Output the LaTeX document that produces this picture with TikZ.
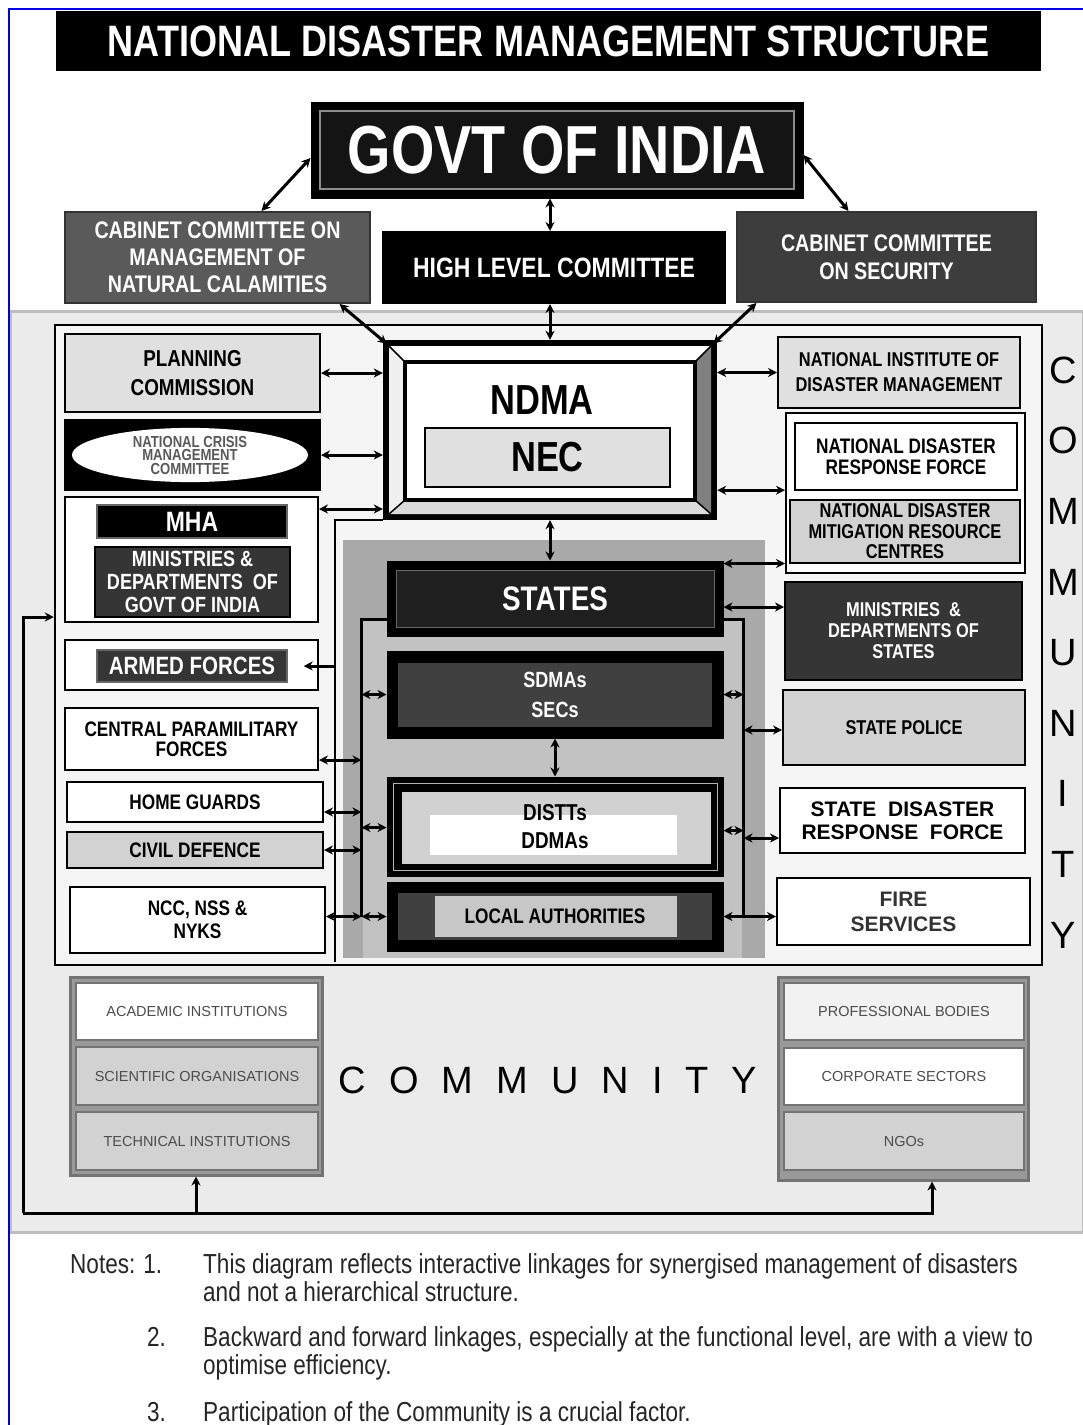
\documentclass[tikz,border=0pt]{standalone}
\usepackage{fontspec}
\setmainfont{Liberation Sans}
\newfontfamily\cnd{Liberation Sans}[FakeStretch=0.82]
\usetikzlibrary{arrows.meta,calc,shapes.geometric}
\definecolor{cabl}{HTML}{5A5A5A}
\definecolor{cabr}{HTML}{3D3D3D}
\definecolor{lg}{HTML}{E0E0E0}
\definecolor{mg}{HTML}{D2D2D2}
\definecolor{dk}{HTML}{353535}
\definecolor{panel}{HTML}{EBEBEB}
\definecolor{frm}{HTML}{F5F5F5}
\definecolor{gmid}{HTML}{A9A9A9}
\definecolor{glt}{HTML}{C2C2C2}
\newcommand\ppr[5]{\filldraw[#1] ([shift={(#2,#3)}]path picture bounding box.north west) rectangle ([shift={(-#4,-#5)}]path picture bounding box.south east);}
\tikzset{
 fs/.style 2 args={font=\cnd\bfseries\fontsize{#1}{#2}\selectfont},
 fr/.style 2 args={font=\cnd\fontsize{#1}{#2}\selectfont},
 box/.style={draw=black, line width=2pt, inner sep=0pt, align=center, fs={20}{22}},
 stk/.style={draw=black!55, line width=1.5pt, minimum width=242, minimum height=58, inner sep=0pt, font=\fontsize{14.5}{15}\selectfont, text=black!70},
 arr/.style={line width=3pt, {Stealth[length=9pt,width=9pt]}-{Stealth[length=9pt,width=9pt]}},
 one/.style={line width=3pt, -{Stealth[length=9pt,width=9pt]}},
 brk/.style={line width=2.5pt},
 note/.style={anchor=north west, inner sep=0pt, align=left, text=black!85, fr={27.5}{28}},
 notenum/.style={anchor=base west, inner sep=0pt, text=black!85, fr={27.5}{28}},
}
\begin{document}
\begin{tikzpicture}[x=1pt,y=-1pt]
\useasboundingbox (0,0) rectangle (1083,1425);
\fill[white] (0,0) rectangle (1083,1425);
% background panel
\filldraw[fill=panel, draw=black!25, line width=3pt] (10,311) rectangle (1083,1232);
\draw[blue!90!black, line width=2pt] (9,1425) -- (9,9) -- (1083,9);
\node[draw=black, line width=2.5pt, fill=frm, minimum width=987, minimum height=640, inner sep=0pt] (frame) at (548.5,645) {};
% central grey region
\fill[gmid] (343,540) rectangle (765,958);
\fill[glt] (363,618) rectangle (742,958);
\draw[line width=2.5pt] (383,520) -- (335,520) -- (335,962);

% top
\node[box, fill=black, text=white, minimum width=983, minimum height=58, fs={44}{48}] (title) at (548.5,41) {NATIONAL DISASTER MANAGEMENT STRUCTURE};
\node[box, fill=black, line width=3pt, text=white, minimum width=490, minimum height=94, fs={68}{72}, path picture={\ppr{draw=black!45,line width=1.2pt,fill=black!92}{8}{8}{8}{8}}] (govt) at (557,150) {GOVT OF INDIA};
\node[box, fill=cabl, draw=black!80, text=white, minimum width=305, minimum height=91, fs={24}{27}] (ccm) at (217.5,257.5) {CABINET COMMITTEE ON\\MANAGEMENT OF\\NATURAL CALAMITIES};
\node[box, fill=black, text=white, minimum width=342, minimum height=71, fs={28}{30}] (hlc) at (554,267.5) {HIGH LEVEL COMMITTEE};
\node[box, fill=cabr, draw=black!80, text=white, minimum width=299, minimum height=90, fs={24}{28}] (ccs) at (886.5,257) {CABINET COMMITTEE\\ON SECURITY};

% NDMA bevel box
\node[minimum width=334, minimum height=180, inner sep=0pt] (ndma) at (550,430) {};
\fill[black] (383,340) rectangle (717,520);
\fill[white] (389,346) -- (711,346) -- (695,362) -- (405,362) -- cycle;
\fill[black!6] (389,346) -- (405,362) -- (405,500) -- (389,514) -- cycle;
\fill[black!50] (711,346) -- (711,514) -- (695,500) -- (695,362) -- cycle;
\fill[black!14] (389,514) -- (711,514) -- (695,500) -- (405,500) -- cycle;
\draw[line width=1.5pt] (389,346) -- (405,362) (711,346) -- (695,362) (389,514) -- (405,500) (711,514) -- (695,500);
\draw[line width=4pt, fill=white] (405,362) rectangle (695,500);
\node[fs={42}{44}] (ndmat) at (542,400) {NDMA};
\node[box, fill=lg, line width=2.5pt, minimum width=245, minimum height=59, fs={42}{44}] (nec) at (547.5,457.5) {NEC};

% left column
\node[box, fill=lg, minimum width=255, minimum height=78, fs={23}{29}] (plan) at (192.5,373) {PLANNING\\COMMISSION};
\node[box, fill=black, minimum width=255, minimum height=70] (ncmc) at (192.5,455) {};
\node[ellipse, fill=white, minimum width=236, minimum height=46, inner sep=0pt, align=center, text=black!65, fs={16}{13.5}] (ncmct) at (190,455) {NATIONAL CRISIS\\MANAGEMENT\\COMMITTEE};
\node[box, fill=white, minimum width=253, minimum height=125] (mha) at (191.5,559.5) {};
\node[box, fill=black, draw=black!60, line width=1.5pt, text=white, minimum width=190, minimum height=33, fs={28}{30}] (mhabar) at (192,521.5) {MHA};
\node[box, fill=dk, line width=1.5pt, text=white, minimum width=195, minimum height=70, fs={22}{23}] (mingoi) at (192.5,582) {MINISTRIES \&\\DEPARTMENTS~ OF\\GOVT OF INDIA};
\node[box, fill=white, minimum width=253, minimum height=50] (arm) at (191.5,665) {};
\node[box, fill=dk, draw=black!60, line width=1.5pt, text=white, minimum width=190, minimum height=32, fs={25}{27}] (armbar) at (192,666) {ARMED FORCES};
\node[box, fill=white, minimum width=253, minimum height=62, fs={21}{20}] (cpf) at (191.5,739) {CENTRAL PARAMILITARY\\FORCES};
\node[box, fill=white, minimum width=256, minimum height=40, fs={21}{22}] (home) at (195,802) {HOME GUARDS};
\node[box, fill=mg, minimum width=256, minimum height=36, fs={21}{22}] (civil) at (195,850) {CIVIL DEFENCE};
\node[box, fill=white, minimum width=255, minimum height=66, fs={21}{23}] (ncc) at (197.5,920) {NCC, NSS \&\\NYKS};

% right column
\node[box, fill=lg, minimum width=242, minimum height=71, fs={20}{25}] (nidm) at (899,372.5) {NATIONAL INSTITUTE OF\\DISASTER MANAGEMENT};
\node[box, fill=white, minimum width=239, minimum height=160] (ncont) at (905.5,493) {};
\node[box, fill=white, line width=1.5pt, minimum width=222, minimum height=67, fs={21}{21}] (ndrf) at (906,456.5) {NATIONAL DISASTER\\RESPONSE FORCE};
\node[box, fill=mg, line width=1.5pt, minimum width=230, minimum height=63, fs={20}{20.5}] (ndmrc) at (905,531.5) {NATIONAL DISASTER\\MITIGATION RESOURCE\\CENTRES};
\node[box, fill=dk, text=white, minimum width=237, minimum height=98, fs={20}{21}] (minst) at (903.5,631) {MINISTRIES~ \&\\DEPARTMENTS OF\\STATES};
\node[box, fill=mg, minimum width=242, minimum height=75, fs={20}{22}] (police) at (904,727.5) {STATE POLICE};
\node[box, fill=white, minimum width=245, minimum height=65, font=\bfseries\fontsize{21}{23}\selectfont] (sdrf) at (902.5,820.5) {STATE~ DISASTER\\RESPONSE~ FORCE};
\node[box, fill=white, minimum width=253, minimum height=67, text=black!80, font=\bfseries\fontsize{21}{25}\selectfont] (fire) at (903.5,911.5) {FIRE\\SERVICES};
\node[align=center, inner sep=0pt, font=\fontsize{38}{70.6}\selectfont] (vcomm) at (1063,652.5) {C\\O\\M\\M\\U\\N\\I\\T\\Y};

% centre column
\node[box, fill=black, line width=3pt, text=white, minimum width=334, minimum height=73, fs={34}{36}, path picture={\ppr{draw=black!60,line width=1pt,fill=black!88}{8}{8}{8}{8}}] (states) at (555,598.5) {STATES};
\node[box, fill=black, line width=3pt, text=white, minimum width=334, minimum height=85, fs={22}{30}, path picture={\ppr{draw=none,fill=black!75}{10}{11}{10}{10}}] (sdma) at (555,694.5) {SDMAs\\SECs};
\node[box, fill=black, line width=3pt, minimum width=334, minimum height=97, fs={23}{28}, path picture={\ppr{draw=black!30,line width=1pt,fill=none}{5}{5}{5}{5}\ppr{draw=black,line width=3pt,fill=black!18}{12}{12}{10}{10}\ppr{draw=none,fill=white}{42}{37}{45}{20}}] (dist) at (555,826.5) {DISTTs\\DDMAs};
\node[box, fill=black, line width=3pt, minimum width=334, minimum height=67, fs={21}{22}, path picture={\ppr{draw=none,fill=black!75}{10}{10}{10}{10}\ppr{draw=none,fill=black!22}{47}{13}{45}{13}}] (local) at (555,916.5) {LOCAL AUTHORITIES};

% bottom stacks
\node[draw=black!55, line width=3pt, fill=black!40, minimum width=252, minimum height=198, inner sep=0pt] (lstack) at (196,1076) {};
\node[stk, fill=white, minimum height=57] (acad) at (197,1011.5) {ACADEMIC INSTITUTIONS};
\node[stk, fill=mg] (sci) at (197,1076) {SCIENTIFIC ORGANISATIONS};
\node[stk, fill=mg] (tech) at (197,1141) {TECHNICAL INSTITUTIONS};
\node[draw=black!55, line width=3pt, fill=black!40, minimum width=250, minimum height=203, inner sep=0pt] (rstack) at (903,1078.5) {};
\node[stk, fill=black!5, minimum width=240, minimum height=57] (prof) at (904,1011.5) {PROFESSIONAL BODIES};
\node[stk, fill=white, minimum width=240, minimum height=57] (corp) at (904,1076.5) {CORPORATE SECTORS};
\node[stk, fill=mg, minimum width=240] (ngo) at (904,1141) {NGOs};
\node[font=\fontsize{38}{40}\selectfont] (comm) at (548,1080) {C\hspace{23pt}O\hspace{23pt}M\hspace{23pt}M\hspace{23pt}U\hspace{23pt}N\hspace{23pt}I\hspace{23pt}T\hspace{23pt}Y};

% connectors: top
\draw[arr] ($(govt.west)+(0,8)$) -- ($(ccm.north)+(44,0)$);
\draw[arr] ($(govt.east)+(0,5)$) -- ($(ccs.north)+(-38,0)$);
\draw[arr] (govt.south -| ndma.north) -- (hlc.north -| ndma.north);
\draw[arr] (hlc.south -| ndma.north) -- (ndma.north);
\draw[arr] ($(ccm.south)+(122,0)$) -- ($(ndma.north west)+(4,4)$);
\draw[arr] ($(ccs.south)+(-130,0)$) -- ($(ndma.north east)+(-4,4)$);
% left to NDMA
\draw[arr] (plan.east) -- (plan.east -| ndma.west);
\draw[arr] (ncmc.east) -- (ncmc.east -| ndma.west);
\path ($(mha.north east)+(0,13)$) coordinate (m1);
\draw[arr] (m1) -- (m1 -| ndma.west);
\coordinate (gl) at (335,520);
\draw[one] (armbar.east -| gl) -- ($(armbar.east)+(16,0)$);
% left bracket
\draw[brk] ($(states.south west)+(0,-17)$) -- ++(-25,0) coordinate (bltop) -- (bltop |- local.west);
\draw[arr] (sdma.west -| bltop) -- (sdma.west);
\draw[arr] ($(dist.west)+(0,1)$) coordinate (d1) -- (d1 -| bltop);
\draw[arr] (local.west -| bltop) -- (local.west);
\path ($(cpf.east)+(0,21)$) coordinate (c1);
\draw[arr] (c1) -- (c1 -| bltop);
\path ($(home.east)+(0,10)$) coordinate (c2);
\draw[arr] (c2) -- (c2 -| bltop);
\draw[arr] (civil.east) -- (civil.east -| bltop);
\draw[arr] (local.west -| ncc.east) -- (local.west -| bltop);
% right bracket
\draw[brk] ($(states.south east)+(0,-17)$) -- ++(20,0) coordinate (brtop) -- (brtop |- local.east);
\draw[arr] (sdma.east) -- (sdma.east -| brtop);
\path ($(police.west)+(0,2.5)$) coordinate (c3);
\draw[arr] (c3 -| brtop) -- (c3);
\path ($(dist.east)+(0,4)$) coordinate (c4);
\draw[arr] (c4) -- (c4 -| brtop);
\path ($(sdrf.west)+(0,17.5)$) coordinate (c5);
\draw[arr] (c5 -| brtop) -- (c5);
\draw[arr] (local.east) -- (local.east -| fire.west);
% NDMA / states to right column
\draw[arr] (nidm.west -| ndma.east) -- (nidm.west);
\path ($(ndma.south east)+(0,-30)$) coordinate (c6);
\draw[arr] (c6) -- (c6 -| ncont.west);
\path ($(states.north east)+(0,3)$) coordinate (c7);
\draw[arr] (c7) -- (c7 -| ncont.west);
\path ($(states.east)+(0,8.5)$) coordinate (c8);
\draw[arr] (c8) -- (c8 -| minst.west);
% vertical chain
\draw[arr] (ndma.south) -- (ndma.south |- states.north);
\draw[arr] (sdma.south) -- (dist.north);
% community loop
\coordinate (lp) at (23,1213);
\path ($(frame.west)+(0,-28)$) coordinate (lt);
\draw[one] (lp) |- (lt);
\draw[one] (lp) -| ($(rstack.south)+(29,0)$);
\draw[one] (lp -| lstack.south) -- (lstack.south);

% notes
\node[note] (n1) at (203,1253) {This diagram reflects interactive linkages for synergised management of disasters\\and not a hierarchical structure.};
\node[note] (n2) at (203,1326) {Backward and forward linkages, especially at the functional level, are with a view to\\optimise efficiency.};
\node[note] (n3) at (203,1401) {Participation of the Community is a crucial factor.};
\node[notenum] (n0) at (70,1273) {Notes:\hspace{8pt}1.};
\node[notenum] (n2l) at (147,1346) {2.};
\node[notenum] (n3l) at (147,1421) {3.};
\end{tikzpicture}
\end{document}
